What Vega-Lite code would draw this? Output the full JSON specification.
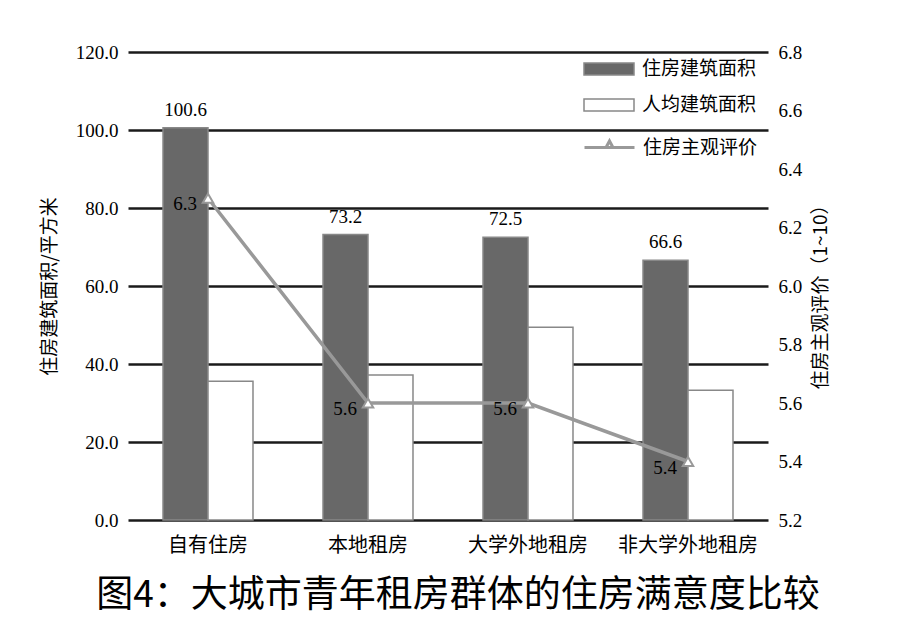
{
  "$schema": "https://vega.github.io/schema/vega-lite/v6.json",
  "width": 640,
  "height": 468,
  "autosize": {"type": "none"},
  "padding": {"left": 128, "top": 52, "right": 132, "bottom": 124},
  "background": "white",
  "config": {
    "view": {"stroke": null},
    "axis": {"labelColor": "#000", "titleColor": "#000", "domain": false, "ticks": false},
    "legend": {"labelFont": "Noto Sans CJK SC", "labelFontSize": 19, "labelColor": "#000", "padding": 0}
  },
  "title": {
    "text": "图4：大城市青年租房群体的住房满意度比较",
    "orient": "bottom",
    "anchor": "middle",
    "offset": 23,
    "dx": 10,
    "font": "Noto Sans CJK SC",
    "fontSize": 37,
    "fontWeight": "normal",
    "color": "#000"
  },
  "datasets": {
    "bars": [
      {"cat": "自有住房", "series": "住房建筑面积", "value": 100.6},
      {"cat": "自有住房", "series": "人均建筑面积", "value": 35.6},
      {"cat": "本地租房", "series": "住房建筑面积", "value": 73.2},
      {"cat": "本地租房", "series": "人均建筑面积", "value": 37.2},
      {"cat": "大学外地租房", "series": "住房建筑面积", "value": 72.5},
      {"cat": "大学外地租房", "series": "人均建筑面积", "value": 49.4},
      {"cat": "非大学外地租房", "series": "住房建筑面积", "value": 66.6},
      {"cat": "非大学外地租房", "series": "人均建筑面积", "value": 33.3}
    ],
    "score": [
      {"cat": "自有住房", "score": 6.3},
      {"cat": "本地租房", "score": 5.6},
      {"cat": "大学外地租房", "score": 5.6},
      {"cat": "非大学外地租房", "score": 5.4}
    ]
  },
  "layer": [
    {
      "layer": [
        {
          "data": {"name": "bars"},
          "mark": {"type": "bar", "stroke": "#888", "strokeWidth": 1.5},
          "encoding": {
            "x": {
              "field": "cat", "type": "nominal", "sort": null,
              "scale": {"paddingInner": 0, "paddingOuter": 0},
              "axis": {"title": null, "labelAngle": 0, "labelFont": "Noto Sans CJK SC", "labelFontSize": 20, "labelPadding": 15}
            },
            "xOffset": {
              "field": "series", "type": "nominal",
              "scale": {"domain": ["住房建筑面积", "人均建筑面积"], "paddingInner": 0, "paddingOuter": 0.778}
            },
            "y": {
              "field": "value", "type": "quantitative",
              "scale": {"domain": [0, 120], "nice": false},
              "axis": {
                "title": "住房建筑面积/平方米", "values": [0, 20, 40, 60, 80, 100, 120], "format": ".1f",
                "labelFont": "Liberation Serif, Times New Roman, serif", "labelFontSize": 19, "labelPadding": 10,
                "grid": true, "gridColor": "#1a1a1a", "gridWidth": 2.5,
                "titleFont": "Noto Sans CJK SC", "titleFontSize": 19, "titleFontWeight": "normal", "titlePadding": 16
              }
            },
            "fill": {
              "field": "series", "type": "nominal",
              "scale": {"domain": ["住房建筑面积", "人均建筑面积"], "range": ["#686868", "#ffffff"]},
              "legend": {
                "title": null, "orient": "none", "legendX": 455, "legendY": -9,
                "symbolType": "M-1,-0.24H1V0.24H-1Z", "symbolSize": 2500,
                "symbolStrokeColor": "#888", "symbolStrokeWidth": 1.5,
                "rowPadding": -15, "labelOffset": 7
              }
            }
          }
        },
        {
          "data": {"name": "bars"},
          "transform": [{"filter": "datum.series === '住房建筑面积'"}],
          "mark": {"type": "text", "baseline": "bottom", "dy": -8, "font": "Liberation Serif, Times New Roman, serif", "fontSize": 19, "color": "#000"},
          "encoding": {
            "x": {"field": "cat", "type": "nominal", "sort": null},
            "xOffset": {"field": "series", "type": "nominal", "scale": {"domain": ["住房建筑面积", "人均建筑面积"]}},
            "y": {"field": "value", "type": "quantitative"},
            "text": {"field": "value", "type": "quantitative", "format": ".1f"}
          }
        }
      ]
    },
    {
      "layer": [
        {
          "data": {"name": "score"},
          "mark": {"type": "line", "strokeWidth": 3.5},
          "encoding": {
            "x": {"field": "cat", "type": "nominal", "sort": null},
            "y": {
              "field": "score", "type": "quantitative",
              "scale": {"domain": [5.2, 6.8], "nice": false, "zero": false},
              "axis": {
                "orient": "right", "title": "住房主观评价（1~10）",
                "values": [5.2, 5.4, 5.6, 5.8, 6.0, 6.2, 6.4, 6.6, 6.8], "format": ".1f",
                "labelFont": "Liberation Serif, Times New Roman, serif", "labelFontSize": 19, "labelPadding": 10,
                "grid": false,
                "titleFont": "Noto Sans CJK SC", "titleFontSize": 19, "titleFontWeight": "normal",
                "titleAngle": 270, "titleX": 52, "titleY": 240, "titleAlign": "center", "titleBaseline": "middle"
              }
            },
            "stroke": {
              "datum": "住房主观评价",
              "scale": {"range": ["#999999"]},
              "legend": {
                "title": null, "orient": "none", "legendX": 455, "legendY": 69,
                "symbolType": "M-1,0H1M-0.14,0L0,-0.26L0.14,0Z", "symbolSize": 2500,
                "symbolStrokeWidth": 3, "labelOffset": 7
              }
            }
          }
        },
        {
          "data": {"name": "score"},
          "mark": {"type": "point", "shape": "triangle-up", "filled": true, "fill": "#ffffff", "stroke": "#999999", "strokeWidth": 2, "size": 110, "opacity": 1},
          "encoding": {
            "x": {"field": "cat", "type": "nominal", "sort": null},
            "y": {"field": "score", "type": "quantitative"}
          }
        },
        {
          "data": {"name": "score"},
          "mark": {"type": "text", "align": "right", "baseline": "middle", "dx": -11, "dy": 6, "font": "Liberation Serif, Times New Roman, serif", "fontSize": 19, "color": "#000"},
          "encoding": {
            "x": {"field": "cat", "type": "nominal", "sort": null},
            "y": {"field": "score", "type": "quantitative"},
            "text": {"field": "score", "type": "quantitative", "format": ".1f"}
          }
        }
      ]
    }
  ],
  "resolve": {"scale": {"y": "independent", "stroke": "independent"}}
}
